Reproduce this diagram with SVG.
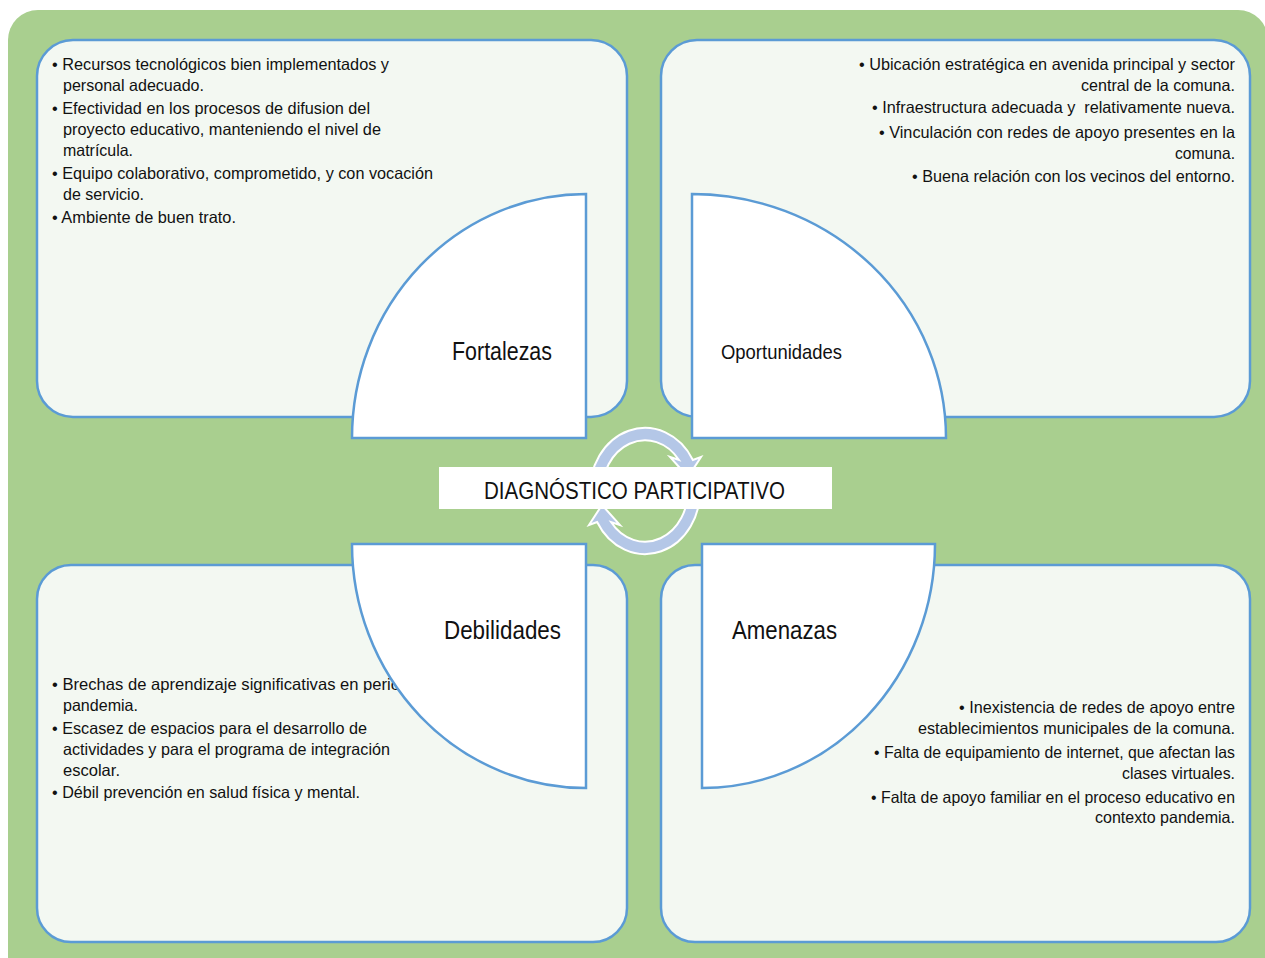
<svg xmlns="http://www.w3.org/2000/svg" width="1265" height="958" viewBox="0 0 1265 958">
<style>
.bg{fill:#A9CF8F}
.box{fill:#F3F8F2;stroke:#5B9BD5;stroke-width:2.5}
.q{fill:#FFFFFF;stroke:#5B9BD5;stroke-width:2.5}
.t{font-family:"Liberation Sans",Arial,sans-serif;font-size:16.5px;fill:#111}
.lbl{font-family:"Liberation Sans",Arial,sans-serif;font-size:25px;fill:#111}
.arr{fill:#B4C7E7;stroke:#FFFFFF;stroke-width:2}
</style>
<rect class="bg" x="8" y="10" width="1260" height="990" rx="30"/>

<g id="box-fortalezas">
<rect class="box" x="37" y="40" width="590" height="377" rx="36"/>
<text class="t" x="52" y="70" textLength="337" lengthAdjust="spacingAndGlyphs">• Recursos tecnológicos bien implementados y</text>
<text class="t" x="63" y="91" textLength="141" lengthAdjust="spacingAndGlyphs">personal adecuado.</text>
<text class="t" x="52" y="114" textLength="318" lengthAdjust="spacingAndGlyphs">• Efectividad en los procesos de difusion del</text>
<text class="t" x="63" y="135" textLength="318" lengthAdjust="spacingAndGlyphs">proyecto educativo, manteniendo el nivel de</text>
<text class="t" x="63" y="156" textLength="70" lengthAdjust="spacingAndGlyphs">matrícula.</text>
<text class="t" x="52" y="179" textLength="381" lengthAdjust="spacingAndGlyphs">• Equipo colaborativo, comprometido, y con vocación</text>
<text class="t" x="63" y="200" textLength="81" lengthAdjust="spacingAndGlyphs">de servicio.</text>
<text class="t" x="52" y="223" textLength="184" lengthAdjust="spacingAndGlyphs">• Ambiente de buen trato.</text>
</g>

<g id="box-oportunidades">
<rect class="box" x="661" y="40" width="589" height="377" rx="36"/>
<text class="t" x="859" y="70" textLength="376" lengthAdjust="spacingAndGlyphs">• Ubicación estratégica en avenida principal y sector</text>
<text class="t" x="1081" y="91" textLength="154" lengthAdjust="spacingAndGlyphs">central de la comuna.</text>
<text class="t" x="872" y="113" textLength="363" lengthAdjust="spacingAndGlyphs" xml:space="preserve">• Infraestructura adecuada y  relativamente nueva.</text>
<text class="t" x="879" y="138" textLength="356" lengthAdjust="spacingAndGlyphs">• Vinculación con redes de apoyo presentes en la</text>
<text class="t" x="1175" y="159" textLength="60" lengthAdjust="spacingAndGlyphs">comuna.</text>
<text class="t" x="912" y="182" textLength="323" lengthAdjust="spacingAndGlyphs">• Buena relación con los vecinos del entorno.</text>
</g>

<g id="box-debilidades">
<rect class="box" x="37" y="565" width="590" height="377" rx="34"/>
<text class="t" x="52" y="690" textLength="348" lengthAdjust="spacingAndGlyphs">• Brechas de aprendizaje significativas en perio</text>
<text class="t" x="63" y="711" textLength="75" lengthAdjust="spacingAndGlyphs">pandemia.</text>
<text class="t" x="52" y="734" textLength="315" lengthAdjust="spacingAndGlyphs">• Escasez de espacios para el desarrollo de</text>
<text class="t" x="63" y="755" textLength="327" lengthAdjust="spacingAndGlyphs">actividades y para el programa de integración</text>
<text class="t" x="63" y="776" textLength="57" lengthAdjust="spacingAndGlyphs">escolar.</text>
<text class="t" x="52" y="798" textLength="308" lengthAdjust="spacingAndGlyphs">• Débil prevención en salud física y mental.</text>
</g>

<g id="box-amenazas">
<rect class="box" x="661" y="565" width="589" height="377" rx="34"/>
<text class="t" x="959" y="713" textLength="276" lengthAdjust="spacingAndGlyphs">• Inexistencia de redes de apoyo entre</text>
<text class="t" x="918" y="734" textLength="317" lengthAdjust="spacingAndGlyphs">establecimientos municipales de la comuna.</text>
<text class="t" x="874" y="758" textLength="361" lengthAdjust="spacingAndGlyphs">• Falta de equipamiento de internet, que afectan las</text>
<text class="t" x="1122" y="779" textLength="113" lengthAdjust="spacingAndGlyphs">clases virtuales.</text>
<text class="t" x="871" y="803" textLength="364" lengthAdjust="spacingAndGlyphs">• Falta de apoyo familiar en el proceso educativo en</text>
<text class="t" x="1095" y="823" textLength="140" lengthAdjust="spacingAndGlyphs">contexto pandemia.</text>
</g>

<g id="fortalezas">
<path class="q" d="M586,194 L586,438 L352,438 A234,244 0 0 1 586,194 Z"/>
<text class="lbl" x="452" y="360" textLength="100" lengthAdjust="spacingAndGlyphs">Fortalezas</text>
</g>
<g id="oportunidades">
<path class="q" d="M692,438 L692,194 A254,244 0 0 1 946,438 Z"/>
<text class="lbl" x="721" y="359" style="font-size:21px" textLength="121" lengthAdjust="spacingAndGlyphs">Oportunidades</text>
</g>
<g id="debilidades">
<path class="q" d="M352,544 L586,544 L586,788 A234,244 0 0 1 352,544 Z"/>
<text class="lbl" x="444" y="639" textLength="117" lengthAdjust="spacingAndGlyphs">Debilidades</text>
</g>
<g id="amenazas">
<path class="q" d="M702,544 L935,544 A233,244 0 0 1 702,788 Z"/>
<text class="lbl" x="732" y="639" textLength="105" lengthAdjust="spacingAndGlyphs">Amenazas</text>
</g>

<g id="connectors">
<path class="arr" d="M590.2,496.5 A55,63 0 0 1 692.9,460 L701,457 L688,477 L670,457 L679,460 A43,51 0 0 0 602.2,495.4 Z"/>
<path class="arr" transform="rotate(180 645 491)" d="M590.2,496.5 A55,63 0 0 1 692.9,460 L701,457 L688,477 L670,457 L679,460 A43,51 0 0 0 602.2,495.4 Z"/>
</g>

<g id="center">
<rect x="439" y="467" width="393" height="42" fill="#FFFFFF"/>
<text class="lbl" x="484" y="499" style="font-size:24px" textLength="301" lengthAdjust="spacingAndGlyphs">DIAGNÓSTICO PARTICIPATIVO</text>
</g>
</svg>
